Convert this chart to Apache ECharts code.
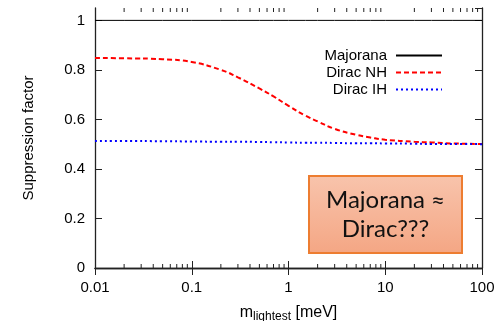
<!DOCTYPE html>
<html>
<head>
<meta charset="utf-8">
<script src="https://cdn.jsdelivr.net/npm/echarts@6/dist/echarts.min.js"></script>
<style>
  html, body { margin: 0; padding: 0; background: #fff; }
  #chart { width: 502px; height: 321px; }
</style>
</head>
<body>
<div id="chart"></div>
<script>
// lightest neutrino mass [meV]
const massPoints = [0.01, 0.02, 0.05, 0.1, 0.2, 0.3, 0.5, 0.7, 1, 1.5, 2, 3, 5, 7, 10, 20, 30, 50, 100]
// suppression factors
const majorana = [1, 1, 1, 1, 1, 1, 1, 1, 1, 1, 1, 1, 1, 1, 1, 1, 1, 1, 1]
const diracNH = [0.848, 0.847, 0.843, 0.832, 0.800, 0.770, 0.725, 0.693, 0.655, 0.615, 0.592, 0.562, 0.538, 0.527, 0.518, 0.510, 0.507, 0.503, 0.501]
const diracIH = [0.513, 0.513, 0.512, 0.511, 0.510, 0.510, 0.509, 0.508, 0.507, 0.506, 0.506, 0.505, 0.504, 0.504, 0.503, 0.502, 0.501, 0.501, 0.500]
// minor ticks of the log axis
const minorTicks = [0.02, 0.03, 0.04, 0.05, 0.06, 0.07, 0.08, 0.09,
  0.2, 0.3, 0.4, 0.5, 0.6, 0.7, 0.8, 0.9,
  2, 3, 4, 5, 6, 7, 8, 9,
  20, 30, 40, 50, 60, 70, 80, 90]

const font = '"Liberation Sans", Arial, sans-serif'
const frame = { show: true, lineStyle: { color: '#222', width: 1.3 } }

const pairs = (ys) => massPoints.map((m, i) => [m, ys[i]])

const chart = echarts.init(document.getElementById('chart'))

const option = {
  animation: false,
  grid: { left: 95, top: 8, right: 20, bottom: 53, outerBoundsMode: 'none', containLabel: false },
  xAxis: [
    {
      type: 'log',
      logBase: 10,
      min: 0.01,
      max: 100,
      name: '{m|m}{sub|lightest}{m| [meV]}',
      nameLocation: 'middle',
      nameGap: 34,
      nameTextStyle: {
        rich: {
          m: { fontSize: 16, fontFamily: font, color: '#000' },
          sub: { fontSize: 12, fontFamily: font, color: '#000', padding: [9, 0, 0, 0] }
        }
      },
      axisLine: frame,
      axisTick: { inside: true, length: 7, lineStyle: { color: '#222' } },
      axisLabel: { fontSize: 15, fontFamily: font, color: '#000', margin: 12 },
      splitLine: { show: false }
    },
    {
      type: 'log',
      logBase: 10,
      min: 0.01,
      max: 100,
      position: 'top',
      axisLine: frame,
      axisTick: { inside: true, length: 7, lineStyle: { color: '#222' } },
      axisLabel: { show: false },
      splitLine: { show: false }
    }
  ],
  yAxis: [
    {
      type: 'value',
      min: 0,
      max: 1.05,
      interval: 0.2,
      name: 'Suppression factor',
      nameLocation: 'middle',
      nameGap: 59,
      nameTextStyle: { fontSize: 15, fontFamily: font, color: '#000' },
      axisLine: frame,
      axisTick: { inside: true, length: 7, lineStyle: { color: '#222' } },
      axisLabel: { fontSize: 15, fontFamily: font, color: '#000', margin: 10, showMaxLabel: false,
        formatter: (v) => (v > 1.01 ? '' : String(Math.round(v * 10) / 10)) },
      splitLine: { show: false }
    },
    {
      type: 'value',
      min: 0,
      max: 1.05,
      interval: 0.2,
      position: 'right',
      axisLine: frame,
      axisTick: { inside: true, length: 7, lineStyle: { color: '#222' } },
      axisLabel: { show: false },
      splitLine: { show: false }
    }
  ],
  legend: {
    orient: 'vertical',
    right: 54,
    top: 43,
    align: 'right',
    itemWidth: 46,
    itemHeight: 14,
    itemGap: 2,
    data: ['Majorana', 'Dirac NH', 'Dirac IH'],
    itemStyle: { opacity: 0 },
    textStyle: { fontSize: 15, fontFamily: font, color: '#000', padding: [0, 4, 0, 0] }
  },
  series: [
    {
      name: 'Majorana',
      type: 'line',
      symbol: 'none',
      data: pairs(majorana),
      lineStyle: { color: '#000', width: 1 },
      itemStyle: { color: '#000' }
    },
    {
      name: 'Dirac NH',
      type: 'line',
      symbol: 'none',
      smooth: true,
      data: pairs(diracNH),
      lineStyle: { color: '#ff0000', width: 2, type: [5, 3] },
      itemStyle: { color: '#ff0000' }
    },
    {
      name: 'Dirac IH',
      type: 'line',
      symbol: 'none',
      smooth: true,
      data: pairs(diracIH),
      lineStyle: { color: '#0000ff', width: 2, type: [2, 3] },
      itemStyle: { color: '#0000ff' }
    },
    {
      name: 'minorTicks',
      type: 'custom',
      silent: true,
      data: minorTicks.map((v) => [v, 0]),
      renderItem: (params, api) => {
        const p = api.coord([api.value(0), 0])
        const cs = params.coordSys
        const st = { stroke: '#222', lineWidth: 1 }
        return {
          type: 'group',
          children: [
            { type: 'line', shape: { x1: p[0], y1: cs.y + cs.height, x2: p[0], y2: cs.y + cs.height - 4 }, style: st },
            { type: 'line', shape: { x1: p[0], y1: cs.y, x2: p[0], y2: cs.y + 4 }, style: st }
          ]
        }
      }
    }
  ],
  graphic: [
    {
      type: 'group',
      left: 308,
      top: 175,
      children: [
        {
          type: 'rect',
          shape: { x: 0, y: 0, width: 153, height: 77 },
          style: {
            fill: new echarts.graphic.LinearGradient(0, 0, 0, 1, [
              { offset: 0, color: '#f8c4ac' },
              { offset: 1, color: '#f4a684' }
            ]),
            stroke: '#ed7d31',
            lineWidth: 2
          }
        },
        {
          type: 'text',
          x: 76.5,
          y: 39,
          style: {
            text: 'Majorana ≈\nDirac???',
            fontSize: 24,
            lineHeight: 29,
            fontFamily: 'Lato, "Open Sans", sans-serif',
            fill: '#111',
            align: 'center',
            verticalAlign: 'middle'
          }
        }
      ]
    }
  ]
}

chart.setOption(option)
window.addEventListener('resize', () => chart.resize())
</script>
</body>
</html>
